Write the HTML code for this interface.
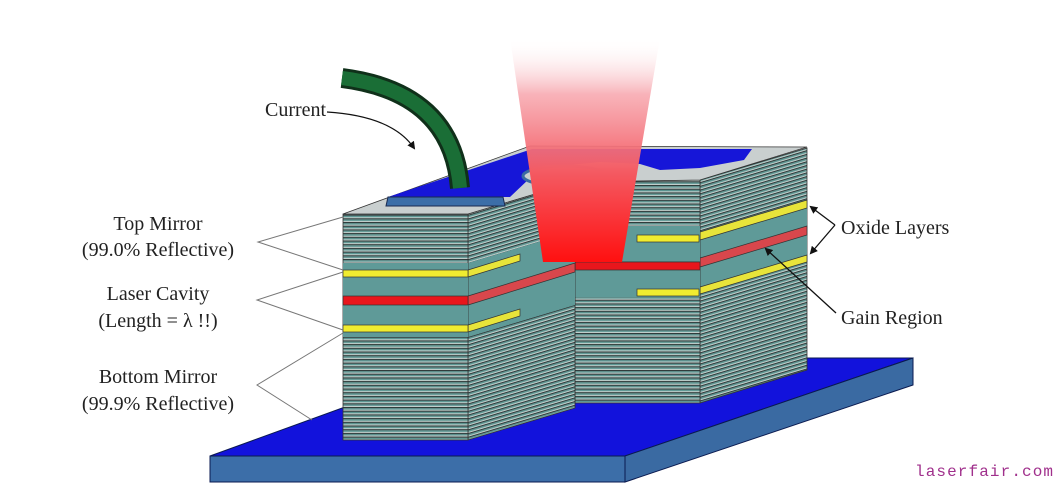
<!DOCTYPE html>
<html><head><meta charset="utf-8"><style>
html,body{margin:0;padding:0;background:#fff}
svg{display:block}
text{font-family:"Liberation Serif",serif;fill:#222}
</style></head><body>
<svg width="1063" height="502" viewBox="0 0 1063 502" xmlns="http://www.w3.org/2000/svg">
<defs>
<pattern id="st" width="8" height="3.7" patternUnits="userSpaceOnUse">
<rect width="8" height="3.7" fill="#c4cfcc"/>
<rect y="0" width="8" height="1.2" fill="#2c3838"/>
<rect y="1.2" width="8" height="1.4" fill="#5a9692"/>
</pattern>
<pattern id="so" width="8" height="3.7" patternUnits="userSpaceOnUse" patternTransform="skewY(-16.7)">
<rect width="8" height="3.7" fill="#c4cfcc"/>
<rect y="0" width="8" height="1.2" fill="#2c3838"/>
<rect y="1.2" width="8" height="1.4" fill="#5a9692"/>
</pattern>
<linearGradient id="beam" x1="0" y1="38" x2="0" y2="262" gradientUnits="userSpaceOnUse">
<stop offset="0" stop-color="#ffffff" stop-opacity="0"/>
<stop offset="0.25" stop-color="#f6a0a8" stop-opacity="0.8"/>
<stop offset="0.6" stop-color="#f45a62"/>
<stop offset="1" stop-color="#ff1010"/>
</linearGradient>
<marker id="ah" markerWidth="8" markerHeight="8" refX="6" refY="4" orient="auto" markerUnits="userSpaceOnUse">
<path d="M0,0 L8,4 L0,8 Z" fill="#111"/>
</marker>
</defs>

<!-- substrate -->
<polygon points="210,456 625,456 913,358 480,358" fill="#1212dc" stroke="#0a1a50" stroke-width="1"/>
<polygon points="625,456 913,358 913,385 625,482" fill="#3a6aa2" stroke="#0a1a50" stroke-width="1"/>
<rect x="210" y="456" width="415" height="26" fill="#3c6ea8" stroke="#0a1a50" stroke-width="1"/>

<!-- right block oblique face -->
<polygon points="700,180 807,148 807,370 700,403" fill="url(#so)" stroke="#333" stroke-width="0.8"/>
<polygon points="700,232 807,200 807,262 700,294" fill="#5f9a98"/>
<polygon points="700,232 807,200 807,208 700,240" fill="#e8e43a" stroke="#333" stroke-width="0.7"/>
<polygon points="700,258 807,226 807,235 700,267" fill="#d8474c" stroke="#333" stroke-width="0.7"/>
<polygon points="700,287 807,255 807,262 700,294" fill="#e8e43a" stroke="#333" stroke-width="0.7"/>

<!-- upper back face (center) -->
<rect x="575" y="180" width="125" height="82" fill="url(#st)" stroke="#333" stroke-width="0.8"/>
<rect x="575" y="226" width="125" height="36" fill="#5f9a98"/>
<rect x="637" y="235" width="62" height="7" fill="#f0ec30" stroke="#333" stroke-width="0.7"/>

<!-- center lower face -->
<rect x="575" y="262" width="125" height="141" fill="url(#st)" stroke="#333" stroke-width="0.8"/>
<rect x="575" y="262" width="125" height="35" fill="#5f9a98"/>
<rect x="575" y="262" width="125" height="8" fill="#e8161c" stroke="#333" stroke-width="0.7"/>
<rect x="637" y="289" width="62" height="7" fill="#f0ec30" stroke="#333" stroke-width="0.7"/>

<!-- left block oblique face -->
<polygon points="468,214 575,182 575,408 468,440" fill="url(#so)" stroke="#333" stroke-width="0.8"/>
<polygon points="468,263 575,231 575,305 468,337" fill="#5f9a98"/>
<polygon points="468,270 520,254 520,261 468,277" fill="#e8e43a" stroke="#333" stroke-width="0.7"/>
<polygon points="468,296 575,263 575,272 468,305" fill="#d8474c" stroke="#333" stroke-width="0.7"/>
<polygon points="468,325 520,309 520,316 468,332" fill="#e8e43a" stroke="#333" stroke-width="0.7"/>

<!-- left block front face -->
<rect x="343" y="214" width="125" height="226" fill="url(#st)" stroke="#333" stroke-width="0.8"/>
<rect x="343" y="263" width="125" height="74" fill="#5f9a98"/>
<rect x="343" y="270" width="125" height="7" fill="#f0ec30" stroke="#333" stroke-width="0.7"/>
<rect x="343" y="296" width="125" height="9" fill="#e8161c" stroke="#333" stroke-width="0.7"/>
<rect x="343" y="325" width="125" height="7" fill="#f0ec30" stroke="#333" stroke-width="0.7"/>

<!-- top face -->
<polygon points="343,214 468,214 575,182 700,180 807,147 530,146" fill="#c9cfcf" stroke="#333" stroke-width="0.8"/>
<polygon points="388,197 532,149 752,149 744,160 700,168 660,170 640,164 600,162 560,166 530,178 510,197" fill="#1616d8"/>
<ellipse cx="565" cy="176" rx="42" ry="10" fill="#c9cfcf" stroke="#3a6aa2" stroke-width="3"/>
<polygon points="388,197 503,197 505,206 386,206" fill="#3c6ea8" stroke="#1a2a50" stroke-width="1"/>

<!-- beam -->
<polygon points="510,38 660,38 622,262 543,262" fill="url(#beam)"/>

<!-- wire -->
<path d="M342 78 Q452 92 460 188" fill="none" stroke="#10301a" stroke-width="20"/>
<path d="M342 78 Q452 92 460 188" fill="none" stroke="#1a6e36" stroke-width="14"/>

<!-- current arrow -->
<path d="M327 112 Q392 116 414 148" fill="none" stroke="#111" stroke-width="1.2" marker-end="url(#ah)"/>

<!-- leader lines -->
<g stroke="#777" stroke-width="1" fill="none">
<polyline points="343,217 258,242 343,270"/>
<polyline points="343,272 257,300 343,330"/>
<polyline points="343,333 257,385 312,420"/>
</g>
<g stroke="#111" stroke-width="1.3" fill="none">
<line x1="835" y1="225" x2="811" y2="207" marker-end="url(#ah)"/>
<line x1="835" y1="225" x2="811" y2="253" marker-end="url(#ah)"/>
<line x1="836" y1="313" x2="766" y2="249" marker-end="url(#ah)"/>
</g>

<!-- labels -->
<g font-size="20">
<text x="265" y="116">Current</text>
<text x="158" y="230" text-anchor="middle">Top Mirror</text>
<text x="158" y="256" text-anchor="middle">(99.0% Reflective)</text>
<text x="158" y="300" text-anchor="middle">Laser Cavity</text>
<text x="158" y="327" text-anchor="middle">(Length = λ !!)</text>
<text x="158" y="383" text-anchor="middle">Bottom Mirror</text>
<text x="158" y="410" text-anchor="middle">(99.9% Reflective)</text>
<text x="841" y="234">Oxide Layers</text>
<text x="841" y="324">Gain Region</text>
</g>
<text x="915" y="476" font-size="16" letter-spacing="1.1" style="font-family:'Liberation Mono',monospace;fill:#a0308c">laserfair.com</text>
</svg>
</body></html>
